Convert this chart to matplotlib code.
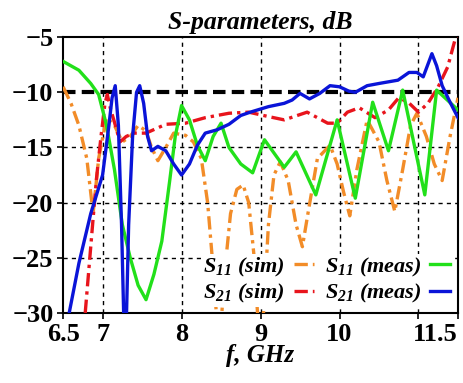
import matplotlib.pyplot as plt

plt.rcParams['font.family'] = 'Liberation Serif'
plt.rcParams['mathtext.fontset'] = 'custom'
plt.rcParams['mathtext.rm'] = 'Liberation Serif:bold:italic'
plt.rcParams['mathtext.it'] = 'Liberation Serif:bold:italic'

# S11 simulated (orange dash-dot)
s11_sim_f = [6.5, 6.6, 6.7, 6.8, 6.88, 6.95, 7.05, 7.15, 7.25, 7.35, 7.45, 7.55, 7.62, 7.7,
             7.8, 7.9, 8.05, 8.15, 8.25, 8.33, 8.4, 8.45, 8.5, 8.55, 8.62, 8.7, 8.78, 8.85,
             8.92, 8.97, 9.03, 9.1, 9.17, 9.25, 9.35, 9.45, 9.53, 9.6, 9.72, 9.88, 9.97,
             10.05, 10.13, 10.22, 10.35, 10.5, 10.6, 10.7, 10.8, 10.9, 10.98, 11.1, 11.2,
             11.3, 11.4, 11.5]
s11_sim_db = [-9.5, -11, -13, -16, -21, -16, -12.3, -13, -14.5, -14, -13, -13.5, -15, -16.2,
              -15, -13.7, -13.9, -14.5, -16, -20, -26, -31, -31, -26, -21, -18.8, -18.4, -20,
              -25, -31, -31, -22, -17.5, -16.3, -18, -22, -24, -21, -16, -14.8, -16.5,
              -19, -21.2, -17, -12.5, -14.5, -18, -20.8, -17, -13, -11.9, -14, -16.5,
              -18, -14, -10.5]

# S11 measured (green)
s11_meas_f = [6.5, 6.7, 6.85, 6.95, 7.05, 7.15, 7.25, 7.35, 7.45, 7.55, 7.65, 7.75, 7.85,
              7.92, 8.0, 8.1, 8.2, 8.3, 8.4, 8.5, 8.6, 8.75, 8.9, 9.05, 9.3, 9.45, 9.7,
              9.97, 10.2, 10.42, 10.62, 10.8, 11.08, 11.23, 11.5]
s11_meas_db = [-7.2, -8.0, -9.2, -10.2, -13, -17, -22, -25, -27.5, -28.8, -26.5, -23.5, -18,
               -14, -11.2, -12.5, -14.8, -16.2, -14, -12.8, -15, -16.5, -17.3, -14.3, -16.8,
               -15.4, -19.3, -12.5, -19.6, -10.9, -15.3, -9.8, -19.3, -9.8, -11.6]

# S21 simulated (red dash-dot)
s21_sim_f = [6.78, 6.85, 6.92, 6.98, 7.03, 7.06, 7.1, 7.15, 7.22, 7.3, 7.4, 7.55, 7.8, 8.05,
             8.3, 8.6, 8.85, 9.1, 9.3, 9.59, 9.85, 9.97, 10.1, 10.25, 10.45, 10.62, 10.75,
             10.87, 11.0, 11.12, 11.25, 11.37, 11.46, 11.5]
s21_sim_db = [-30, -24, -18, -14, -11, -10.2, -11.5, -12.7, -14.5, -14, -13.7, -13.7, -12.9,
              -12.8, -12.3, -11.9, -11.8, -12.2, -12.5, -11.8, -12.8, -12.8, -11.8, -11.4,
              -12.3, -11.6, -10.5, -10.9, -11.8, -11.0, -9.5, -7.7, -5.3, -5.0]

# S21 measured (blue)
s21_meas_f = [6.55, 6.7, 6.85, 7.0, 7.08, 7.12, 7.16, 7.2, 7.24, 7.27, 7.3, 7.33, 7.38, 7.43,
              7.47, 7.52, 7.57, 7.62, 7.7, 7.8, 7.9, 8.0, 8.1, 8.2, 8.3, 8.45, 8.6, 8.75,
              8.87, 9.1, 9.3, 9.4, 9.5, 9.62, 9.75, 9.88, 10.0, 10.12, 10.2, 10.35, 10.5,
              10.74, 10.88, 10.98, 11.06, 11.17, 11.23, 11.3, 11.4, 11.5]
s21_meas_db = [-31, -25.5, -21, -17.5, -13, -10.5, -9.4, -13, -22, -31, -31, -22, -14, -10,
               -9.4, -11, -14, -15.3, -14.9, -15.3, -16.5, -17.5, -16.5, -14.8, -13.7, -13.4,
               -12.9, -12.1, -11.8, -11.3, -11.0, -10.7, -10.1, -10.6, -10.1, -9.4, -9.5,
               -9.9, -10.0, -9.4, -9.2, -8.9, -8.2, -8.2, -8.6, -6.5, -7.6, -9.4, -10.9, -12.3]

x_ticks = [6.5, 7, 8, 9, 10, 11, 11.5]
x_tick_labels = ['6.5', '7', '8', '9', '10', '', '11.5']
y_ticks = [-30, -25, -20, -15, -10, -5]

fig = plt.figure(figsize=(4.64, 3.83), dpi=100)
ax = fig.add_axes([0.136, 0.183, 0.851, 0.72])

# grid
for x in [7, 8, 9, 10, 11]:
    ax.axvline(x, color='black', lw=1, linestyle=(0, (3, 3)), zorder=1)
for y in [-15, -20, -25]:
    ax.axhline(y, color='black', lw=1, linestyle=(0, (3, 3)), zorder=1)
ax.axhline(-10, color='black', lw=3, linestyle=(0, (3, 1.5)), zorder=2)

dashdot = (0, (4, 1.5, 1, 1.5))
l1, = ax.plot(s11_sim_f, s11_sim_db, color='#f28c28', lw=2.4, linestyle=dashdot, zorder=3)
l3, = ax.plot(s21_sim_f, s21_sim_db, color='#e8141c', lw=2.4, linestyle=dashdot, zorder=4)
l2, = ax.plot(s11_meas_f, s11_meas_db, color='#22e01a', lw=2.4, zorder=5)
l4, = ax.plot(s21_meas_f, s21_meas_db, color='#0a14d8', lw=2.4, zorder=6)

ax.set_xlim(6.5, 11.5)
ax.set_ylim(-30, -5)
ax.set_xticks(x_ticks)
ax.set_xticklabels(x_tick_labels)
ax.set_yticks(y_ticks)
ax.tick_params(direction='out', length=4, width=1.2, labelsize=19, pad=3)
for lab in ax.get_xticklabels() + ax.get_yticklabels():
    lab.set_fontweight('bold')
ax.get_xticklabels()[-1].set_horizontalalignment('right')
ax.get_xticklabels()[-1].set_x(11.55)
for s in ax.spines.values():
    s.set_linewidth(1.5)

ax.set_title('S-parameters, dB', fontsize=18.5, fontweight='bold', style='italic', pad=6)
ax.set_xlabel('f, GHz', fontsize=18, fontweight='bold', style='italic', labelpad=-1)

leg = ax.legend([l1, l3, l2, l4],
                [r'$S_{11}$ (sim)', r'$S_{21}$ (sim)', r'$S_{11}$ (meas)', r'$S_{21}$ (meas)'],
                ncol=2, loc='lower right', markerfirst=False, frameon=True,
                prop={'family': 'Liberation Serif', 'weight': 'bold', 'style': 'italic', 'size': 16},
                handlelength=0.9, handletextpad=0.4, columnspacing=0.5, labelspacing=0.15,
                borderaxespad=0.25, borderpad=0.1)
leg.get_frame().set_edgecolor('none')
leg.get_frame().set_facecolor('white')
leg.get_frame().set_alpha(1)
leg.set_zorder(10)

fig.savefig('out.png', dpi=100)
